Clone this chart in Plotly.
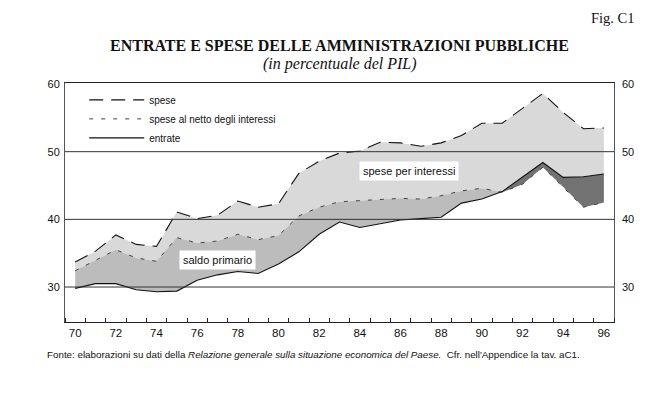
import numpy as np
import plotly.graph_objects as go

years = list(range(1970, 1997))
spese = [33.7, 35.3, 37.7, 36.3, 36.0, 41.1, 40.1, 40.6, 42.7, 41.8, 42.3, 46.8, 48.6, 49.8,
         50.1, 51.4, 51.3, 50.8, 51.3, 52.4, 54.2, 54.2, 56.4, 58.6, 55.8, 53.4, 53.5]
spese_netto = [32.4, 34.0, 35.5, 34.3, 33.8, 37.3, 36.5, 36.8, 37.8, 37.0, 37.6, 40.5, 41.8, 42.6,
               42.8, 43.0, 43.1, 43.0, 43.5, 44.2, 44.6, 44.0, 45.2, 47.7, 44.8, 41.8, 42.5]
entrate = [29.8, 30.5, 30.5, 29.6, 29.3, 29.4, 31.0, 31.8, 32.3, 32.0, 33.4, 35.2, 37.8, 39.6,
           38.8, 39.3, 39.9, 40.1, 40.3, 42.4, 43.0, 44.1, 46.3, 48.4, 46.2, 46.3, 46.7]
y_ticks = [30, 40, 50, 60]
x_ticks = list(range(1970, 1997, 2))
x_labels = [str(y % 100) for y in x_ticks]

FONT = "Liberation Sans, Arial, sans-serif"
SERIF = "Liberation Serif, Times New Roman, serif"

# refined grid with crossing points between entrate and spese_netto
xs, e_r, n_r = [], [], []
for i in range(len(years)):
    xs.append(years[i]); e_r.append(entrate[i]); n_r.append(spese_netto[i])
    if i < len(years) - 1:
        d0 = entrate[i] - spese_netto[i]
        d1 = entrate[i + 1] - spese_netto[i + 1]
        if d0 * d1 < 0:
            t = d0 / (d0 - d1)
            xc = years[i] + t
            yc = entrate[i] + t * (entrate[i + 1] - entrate[i])
            xs.append(xc); e_r.append(yc); n_r.append(yc)
e_r = np.array(e_r); n_r = np.array(n_r)
lo = np.minimum(e_r, n_r)
hi = np.maximum(e_r, n_r)

fig = go.Figure()
nol = dict(width=0)
# spese per interessi
fig.add_trace(go.Scatter(x=years, y=spese_netto, mode="lines", line=nol, showlegend=False, hoverinfo="skip"))
fig.add_trace(go.Scatter(x=years, y=spese, mode="lines", line=nol, fill="tonexty",
                         fillcolor="#d9d9d9", showlegend=False, hoverinfo="skip"))
# saldo primario (deficit)
fig.add_trace(go.Scatter(x=xs, y=lo, mode="lines", line=nol, showlegend=False, hoverinfo="skip"))
fig.add_trace(go.Scatter(x=xs, y=n_r, mode="lines", line=nol, fill="tonexty",
                         fillcolor="#bcbcbc", showlegend=False, hoverinfo="skip"))
# saldo primario (surplus)
fig.add_trace(go.Scatter(x=xs, y=n_r, mode="lines", line=nol, showlegend=False, hoverinfo="skip"))
fig.add_trace(go.Scatter(x=xs, y=hi, mode="lines", line=nol, fill="tonexty",
                         fillcolor="#727272", showlegend=False, hoverinfo="skip"))

# lines
fig.add_trace(go.Scatter(x=years, y=spese, mode="lines", name="spese",
                         line=dict(color="#111111", width=1.1, dash="14px,8px")))
fig.add_trace(go.Scatter(x=years, y=spese_netto, mode="lines", name="spese al netto degli interessi",
                         line=dict(color="#444444", width=1, dash="4px,8px")))
fig.add_trace(go.Scatter(x=years, y=entrate, mode="lines", name="entrate",
                         line=dict(color="#111111", width=1.1)))
# right axis helper
fig.add_trace(go.Scatter(x=years, y=entrate, yaxis="y2", mode="lines", line=nol,
                         showlegend=False, hoverinfo="skip", opacity=0))

shapes = []
for v in y_ticks[:-1]:
    shapes.append(dict(type="line", xref="paper", x0=0, x1=1, yref="y", y0=v, y1=v,
                       line=dict(color="#333333", width=1), layer="above"))

yr = [24.83, 60.15]
fig.update_layout(
    width=651, height=389,
    margin=dict(l=57, r=45, t=75, b=75),
    paper_bgcolor="white", plot_bgcolor="white",
    font=dict(family=FONT, size=11, color="#111111"),
    showlegend=True,
    legend=dict(x=0.035, y=0.99, xanchor="left", yanchor="top", bgcolor="rgba(0,0,0,0)",
                font=dict(family=FONT, size=10, color="#111111"), itemwidth=55,
                tracegroupgap=0, traceorder="normal"),
    xaxis=dict(range=[1969.5, 1996.5], tickvals=x_ticks, ticktext=x_labels, ticks="",
               showgrid=False, zeroline=False, showline=True, linecolor="#222222", linewidth=1,
               mirror=True, tickfont=dict(family=FONT, size=11.5, color="#111111"),
               minor=dict(tick0=1969.5, dtick=1, ticks="inside", ticklen=4, tickcolor="#222222",
                          showgrid=False)),
    yaxis=dict(range=yr, tickvals=y_ticks, showgrid=False, zeroline=False, showline=True,
               linecolor="#555555", linewidth=1, mirror=True, ticks="",
               tickfont=dict(family=FONT, size=11, color="#111111"), ticklabelstandoff=2),
    yaxis2=dict(range=yr, tickvals=y_ticks, overlaying="y", side="right", showgrid=False,
                zeroline=False, showline=False, ticks="", ticklabelstandoff=7,
                tickfont=dict(family=FONT, size=11, color="#111111")),
    shapes=shapes,
    annotations=[
        dict(text="Fig. C1", xref="paper", yref="paper", x=1.042, y=1.272, xanchor="right",
             yanchor="middle", showarrow=False, font=dict(family=SERIF, size=14.5, color="#111111")),
        dict(text="<b>ENTRATE E SPESE DELLE AMMINISTRAZIONI PUBBLICHE</b>", xref="paper", yref="paper",
             x=0.5, y=1.155, xanchor="center", yanchor="middle", showarrow=False,
             font=dict(family=SERIF, size=16, color="#111111")),
        dict(text="<i>(in percentuale del PIL)</i>", xref="paper", yref="paper",
             x=0.5, y=1.08, xanchor="center", yanchor="middle", showarrow=False,
             font=dict(family=SERIF, size=16, color="#111111")),
        dict(text="spese per interessi", x=1986.4, y=47.1, xref="x", yref="y", showarrow=False,
             bgcolor="white", borderpad=3, font=dict(family=FONT, size=11, color="#111111")),
        dict(text="saldo primario", x=1977.0, y=34.0, xref="x", yref="y", showarrow=False,
             bgcolor="white", borderpad=3, font=dict(family=FONT, size=11, color="#111111")),
        dict(text="Fonte: elaborazioni su dati della <i>Relazione generale sulla situazione economica del Paese.</i>  Cfr. nell'Appendice la tav. aC1.",
             xref="paper", yref="paper", x=-0.037, y=-0.135, xanchor="left", yanchor="middle",
             showarrow=False, font=dict(family=FONT, size=9.8, color="#111111")),
    ],
)
fig.write_html("out.html")
